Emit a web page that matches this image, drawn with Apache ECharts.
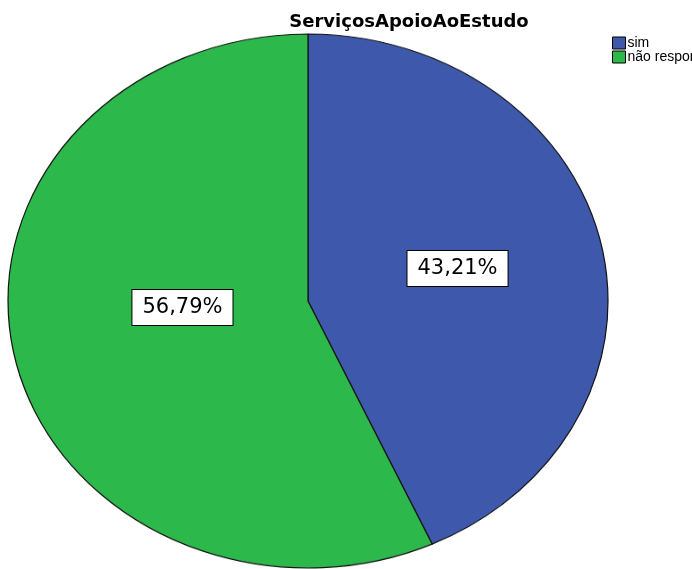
<!DOCTYPE html>
<html><head><meta charset="utf-8">
<script src="https://cdn.jsdelivr.net/npm/echarts@6/dist/echarts.min.js"></script>
<style>
html,body{margin:0;padding:0;background:#fff;}
#wrap{position:relative;width:692px;height:569px;overflow:hidden;}
#pie{position:absolute;left:0;top:0;width:692px;height:660px;transform-origin:308px 301px;transform:scaleY(0.89);}
#over{position:absolute;left:0;top:0;width:692px;height:569px;}
</style></head>
<body>
<div id="wrap"><div id="pie"></div><div id="over"></div></div>
<script>
const titleText = 'ServiçosApoioAoEstudo';
const categories = ['sim', 'não respondeu'];
const values = [43.21, 56.79];
const labels = ['43,21%', '56,79%'];
const colors = ['#3E58AC', '#2DB84B'];

const data = categories.map((c, i) => ({ name: c, value: values[i], itemStyle: { color: colors[i] } }));

const pie = echarts.init(document.getElementById('pie'), null, { renderer: 'canvas' });
pie.setOption({
  animation: false,
  series: [{
    type: 'pie', center: [308, 301], radius: 300, startAngle: 90, clockwise: true,
    silent: true, label: { show: false }, labelLine: { show: false },
    itemStyle: { borderColor: '#111', borderWidth: 1.2 },
    data: data
  }]
});

const over = echarts.init(document.getElementById('over'), null, { renderer: 'canvas' });
over.setOption({
  animation: false,
  title: { text: titleText, left: 404, top: 8, textAlign: 'center',
    textStyle: { fontFamily: 'DejaVu Sans', fontWeight: 'bold', fontSize: 18, color: '#000' } },
  legend: {
    orient: 'vertical', left: 612, top: 36, itemWidth: 13, itemHeight: 12, itemGap: 0,
    icon: 'rect', selectedMode: false, padding: 0,
    textStyle: { fontFamily: 'Liberation Sans', fontSize: 14, lineHeight: 14, color: '#000', padding: [0, 0, 0, -3] },
    data: categories.map((c, i) => ({ name: c, itemStyle: { color: colors[i], borderColor: '#000', borderWidth: 1 } }))
  },
  series: [{
    type: 'pie', center: [308, 301], radius: 300, startAngle: 90, clockwise: true,
    silent: true, labelLine: { show: false },
    itemStyle: { color: 'rgba(0,0,0,0)', borderWidth: 0 },
    emphasis: { disabled: true },
    label: {
      show: true, position: 'inside',
      formatter: p => labels[p.dataIndex],
      fontFamily: 'DejaVu Sans', fontSize: 21, color: '#000',
      backgroundColor: '#fff', borderColor: '#000', borderWidth: 1,
      padding: [6, 10, 5, 10], lineHeight: 24
    },
    labelLayout: p => (p.dataIndex === 1 ? { dx: 24, dy: -26 } : {}),
    data: categories.map((c, i) => ({ name: c, value: values[i] }))
  }]
});
</script>
</body></html>
